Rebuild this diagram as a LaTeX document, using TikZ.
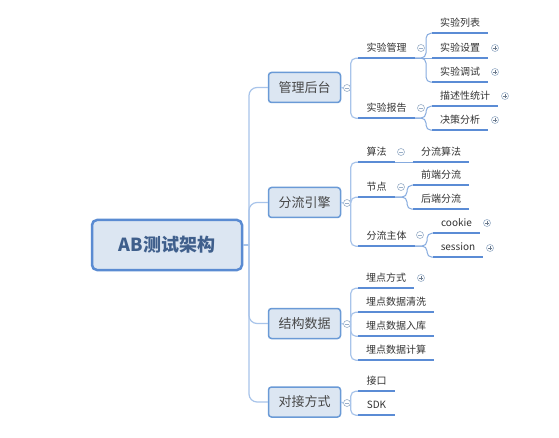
\documentclass[tikz,border=0pt]{standalone}
\usepackage{fontspec}
\setmainfont{Noto Sans CJK SC}
\definecolor{boxfill}{HTML}{DCE6F2}
\definecolor{boxline}{HTML}{6A9AD6}
\definecolor{rootline}{HTML}{5A8BD2}
\definecolor{connc}{HTML}{A8C4EA}
\definecolor{conn2c}{HTML}{86ABDF}
\definecolor{ulc}{HTML}{5B8CD5}
\definecolor{txt}{HTML}{333333}
\definecolor{roottxt}{HTML}{3F5F8C}
\definecolor{togc}{HTML}{9AAFC8}
\tikzset{
  rootbox/.style={draw=rootline, line width=2.5pt, fill=boxfill, rounded corners=5pt,
    minimum width=150pt, minimum height=50pt, inner sep=0pt, text=roottxt,
    font=\fontsize{18}{20}\selectfont\bfseries},
  mainbox/.style={draw=boxline, line width=1.5pt, fill=boxfill, rounded corners=3pt,
    minimum width=72pt, minimum height=30pt, inner sep=0pt, text=txt!90,
    font=\fontsize{13}{15}\selectfont},
  topic/.style={minimum height=20pt, inner sep=0pt, text=txt,
    font=\fontsize{10}{12}\selectfont},
  uline/.style={draw=ulc, line width=2pt},
  trunk/.style={draw=connc, line width=1.2pt, rounded corners=8pt},
  branch/.style={draw=connc, line width=1.2pt, rounded corners=5pt},
  sub/.style={draw=conn2c, line width=1pt, rounded corners=5pt},
  togbase/.style={circle, draw=togc, fill=white, line width=0.6pt, minimum size=7pt, inner sep=0pt},
  togminus/.style={togbase, path picture={\draw[togc, line width=0.6pt]
     ([xshift=-2pt]path picture bounding box.center) -- ([xshift=2pt]path picture bounding box.center);}},
  togplus/.style={togbase, path picture={\draw[togc!70!black, line width=0.6pt]
     ([xshift=-2pt]path picture bounding box.center) -- ([xshift=2pt]path picture bounding box.center)
     ([yshift=-2pt]path picture bounding box.center) -- ([yshift=2pt]path picture bounding box.center);}},
}
\begin{document}
\begin{tikzpicture}[x=1pt,y=-1pt]
\useasboundingbox[fill=white] (0,0) rectangle (559,438);

% root and main boxes
\node[rootbox] (root) at (167,245) {AB测试架构};
\node[mainbox] (b1) at (304.5,87.5) {管理后台};
\node[mainbox] (b2) at (304.5,202.5) {分流引擎};
\node[mainbox] (b3) at (304.5,323.5) {结构数据};
\node[mainbox] (b4) at (304.5,402) {对接方式};

\coordinate (t0) at (249,245);
\draw[trunk] (root.east) -- (t0);
\foreach \b in {b1,b2,b3,b4} \draw[trunk] (t0) |- (\b.west);

% toggles for main boxes
\node[togminus] (k1) at (347,88) {};
\node[togminus] (k2) at (347,203) {};
\node[togminus] (k3) at (347,324) {};
\node[togminus] (k4) at (347,403) {};
\draw[branch] (b1.east) -- (k1.west);
\draw[branch] (b2.east) -- (k2.west);
\draw[branch] (b3.east) -- (k3.west);
\draw[branch] (b4.east) -- (k4.west);

% 管理后台
\node[topic, minimum width=57pt] (m1) at (386.5,48) {实验管理};
\node[topic, minimum width=57pt] (m2) at (386.5,108) {实验报告};
\node[topic, minimum width=56pt] (m1a) at (460,23) {实验列表};
\node[topic, minimum width=56pt] (m1b) at (460,48) {实验设置};
\node[topic, minimum width=56pt] (m1c) at (460,72) {实验调试};
\node[topic, minimum width=66pt] (m2a) at (465,96) {描述性统计};
\node[topic, minimum width=56pt] (m2b) at (460,120) {决策分析};
\node[togminus] (km1) at (421,48) {};
\node[togminus] (km2) at (421,108) {};
\node[togplus] (pm1b) at (495,48) {};
\node[togplus] (pm1c) at (495,72) {};
\node[togplus] (pm2a) at (505,96) {};
\node[togplus] (pm2b) at (495,120) {};

% 分流引擎
\node[topic, minimum width=37pt] (s1) at (376.5,152) {算法};
\node[topic, minimum width=56pt] (s1a) at (441,152) {分流算法};
\node[topic, minimum width=37pt] (s2) at (376.5,187) {节点};
\node[topic, minimum width=56pt] (s2a) at (441,175) {前端分流};
\node[topic, minimum width=56pt] (s2b) at (441,199) {后端分流};
\node[topic, minimum width=57pt] (s3) at (386.5,236) {分流主体};
\node[topic, minimum width=47pt] (s3a) at (456.5,223) {cookie};
\node[topic, minimum width=50pt] (s3b) at (458,247) {session};
\node[togminus] (ks1) at (401,152) {};
\node[togminus] (ks2) at (401,187) {};
\node[togminus] (ks3) at (420,235) {};
\node[togplus] (ps3a) at (487,223) {};
\node[togplus] (ps3b) at (490,248) {};

% 结构数据
\node[topic, minimum width=56pt] (d1) at (386,278) {埋点方式};
\node[topic, minimum width=76pt] (d2) at (396,302) {埋点数据清洗};
\node[topic, minimum width=76pt] (d3) at (396,326) {埋点数据入库};
\node[topic, minimum width=76pt] (d4) at (396,350) {埋点数据计算};
\node[togplus] (pd1) at (421,278) {};

% 对接方式
\node[topic, minimum width=37pt] (j1) at (376.5,381) {接口};
\node[topic, minimum width=37pt] (j2) at (376.5,405) {SDK};

% underlines
\foreach \n in {m1,m2,m1a,m1b,m1c,m2a,m2b,s1,s1a,s2,s2a,s2b,s3,s3a,s3b,d1,d2,d3,d4,j1,j2}
  \draw[uline] (\n.south west) -- (\n.south east);

% level-1 to level-2 connectors
\foreach \c in {m1,m2} \draw[branch] (k1.east) |- (\c.south west);
\foreach \c in {s1,s2,s3} \draw[branch] (k2.east) |- (\c.south west);
\foreach \c in {d1,d2,d3,d4} \draw[branch] (k3.east) |- (\c.south west);
\foreach \c in {j1,j2} \draw[branch] (k4.east) |- (\c.south west);

% level-2 to level-3 connectors
\coordinate (vm1) at (426,58);
\draw[sub] (m1.south east) -- (m1b.south west);
\draw[sub] (m1.south east) -- (vm1) |- (m1a.south west);
\draw[sub] (m1.south east) -- (vm1) |- (m1c.south west);
\coordinate (vm2) at (426,118);
\draw[sub] (m2.south east) -- (vm2) |- (m2a.south west);
\draw[sub] (m2.south east) -- (vm2) |- (m2b.south west);
\draw[sub] (s1.south east) -- (s1a.south west);
\coordinate (vs2) at (407,197);
\draw[sub] (s2.south east) -- (vs2) |- (s2a.south west);
\draw[sub] (s2.south east) -- (vs2) |- (s2b.south west);
\coordinate (vs3) at (427,246);
\draw[sub] (s3.south east) -- (vs3) |- (s3a.south west);
\draw[sub] (s3.south east) -- (vs3) |- (s3b.south west);
\end{tikzpicture}
\end{document}
